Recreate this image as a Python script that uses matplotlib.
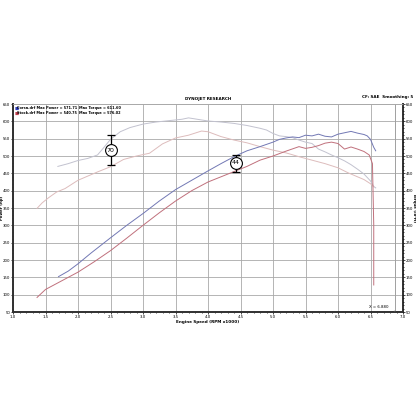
import numpy as np
import matplotlib
matplotlib.use('Agg')
import matplotlib.pyplot as plt
from matplotlib.ticker import MultipleLocator

# dyno runs: engine speed (RPM x1000) vs power (hp) / torque (lb-ft)
corsa_power_rpm = [1.70, 1.85, 2.0, 2.2, 2.5, 2.75, 3.0, 3.25, 3.5, 3.75, 4.0, 4.2, 4.4, 4.6, 4.8,
                   5.0, 5.1, 5.2, 5.3, 5.4, 5.5, 5.6, 5.7, 5.8, 5.9, 6.0, 6.1, 6.2, 6.3, 6.4,
                   6.45, 6.5, 6.55, 6.58]
corsa_power = [152, 168, 189, 220, 264, 300, 334, 370, 403, 430, 457, 478, 498, 515, 527,
               540, 548, 552, 555, 553, 560, 558, 563, 557, 555, 563, 567, 571, 566, 562,
               558, 548, 525, 515]

stock_power_rpm = [1.37, 1.5, 1.75, 2.0, 2.25, 2.5, 2.75, 3.0, 3.25, 3.5, 3.75, 4.0, 4.2, 4.4,
                   4.6, 4.8, 5.0, 5.2, 5.4, 5.5, 5.6, 5.7, 5.8, 5.9, 6.0, 6.1, 6.2, 6.3, 6.4,
                   6.48, 6.53, 6.55, 6.55]
stock_power = [92, 115, 140, 165, 195, 227, 263, 300, 336, 370, 400, 425, 440, 455,
               470, 488, 500, 514, 527, 522, 525, 530, 537, 540, 536, 520, 526, 520, 513,
               503, 478, 300, 128]

corsa_torque_rpm = [1.69, 1.85, 2.0, 2.15, 2.3, 2.4, 2.5, 2.65, 2.8, 3.0, 3.2, 3.4, 3.6, 3.7,
                    3.8, 4.0, 4.2, 4.4, 4.6, 4.8, 4.9, 5.0, 5.1, 5.2, 5.3, 5.4, 5.5, 5.6, 5.7,
                    5.8, 5.9, 6.0, 6.1, 6.2, 6.3, 6.4, 6.5, 6.55, 6.58]
corsa_torque = [470, 478, 487, 493, 503, 525, 548, 570, 582, 592, 598, 602, 606, 610,
                607, 601, 598, 594, 588, 580, 575, 565, 558, 556, 553, 546, 540, 536, 520,
                512, 503, 495, 486, 475, 462, 448, 428, 412, 408]

stock_torque_rpm = [1.37, 1.45, 1.55, 1.67, 1.8, 2.0, 2.15, 2.3, 2.5, 2.7, 2.9, 3.1, 3.3, 3.5,
                    3.7, 3.9, 4.0, 4.2, 4.4, 4.6, 4.8, 5.0, 5.2, 5.4, 5.6, 5.8, 6.0, 6.15,
                    6.3, 6.4, 6.5, 6.55]
stock_torque = [349, 365, 380, 396, 406, 430, 442, 454, 469, 490, 500, 508, 535, 552,
                560, 572, 570, 556, 546, 538, 527, 517, 509, 498, 488, 478, 466, 452,
                440, 432, 420, 411]

# gain markers: rpm, low, high, label
gain_rpm = [2.5, 4.43]
gain_low = [473, 454]
gain_high = [562, 504]
gain_mid = [517, 480]
gain_labels = ['70', '44']

cursor_rpm = 6.88

legend_rows = [('Corsa.drf', '571.71', '611.60', '#3040c0'),
               ('Stock.drf', '540.75', '576.02', '#c04050')]

fig = plt.figure(figsize=(4.16, 4.16), dpi=100)
ax = fig.add_axes([13 / 416, 0.25, 390 / 416, 0.5])

ax.set_xlim(1.0, 7.0)
ax.set_ylim(50, 650)
ax.xaxis.set_major_locator(MultipleLocator(0.5))
ax.xaxis.set_minor_locator(MultipleLocator(0.1))
ax.yaxis.set_major_locator(MultipleLocator(50))
ax.yaxis.set_minor_locator(MultipleLocator(10))
ax.grid(True, which='major', color='#a8a8a8', lw=0.6)
ax.set_axisbelow(True)

ax.plot(corsa_torque_rpm, corsa_torque, color='#c2c2cf', lw=0.7)
ax.plot(stock_torque_rpm, stock_torque, color='#ddbcbc', lw=0.7)
ax.plot(corsa_power_rpm, corsa_power, color='#7278b4', lw=0.7)
ax.plot(stock_power_rpm, stock_power, color='#c0707c', lw=0.7)

ax.axvline(cursor_rpm, color='#a0a0a0', lw=0.7)

for r, lo, hi, mid, lab in zip(gain_rpm, gain_low, gain_high, gain_mid, gain_labels):
    ax.errorbar([r], [mid], yerr=[[mid - lo], [hi - mid]], fmt='none', ecolor='black',
                elinewidth=0.9, capsize=3, capthick=0.9, zorder=5)
    ax.plot([r], [mid], marker='o', ms=8.5, mfc='white', mec='black', mew=0.8, zorder=6)
    ax.text(r, mid, lab, ha='center', va='center', fontsize=4.5, zorder=7)

ax.annotate('X = 6.880', xy=(cursor_rpm, 52), xytext=(6.78, 64), fontsize=2.8,
            ha='right', va='center',
            arrowprops=dict(arrowstyle='-', color='#606060', lw=0.5))

for sp in ['left', 'bottom', 'right']:
    ax.spines[sp].set_linewidth(1.4)
    ax.spines[sp].set_color('#303030')
ax.spines['top'].set_color('#a8a8a8')
ax.spines['top'].set_linewidth(0.6)

ax.tick_params(which='both', labelsize=2.8, length=1.5, width=0.5, pad=0.5)
ax.tick_params(which='minor', length=1)
ax.set_xticklabels([f'{v:.1f}' for v in ax.get_xticks()])
ax.set_xlabel('Engine Speed (RPM x1000)', fontsize=3, fontweight='bold', labelpad=1)
ax.set_ylabel('Power (hp)', fontsize=2.8, fontweight='bold', va='center')
ax.yaxis.set_label_coords(-0.028, 0.5)

ax2 = ax.twinx()
ax2.set_ylim(50, 650)
ax2.yaxis.set_major_locator(MultipleLocator(50))
ax2.yaxis.set_minor_locator(MultipleLocator(10))
ax2.tick_params(which='both', labelsize=2.8, length=1.5, width=0.5, pad=0.5)
ax2.tick_params(which='minor', length=1)
ax2.set_ylabel('Torque (lb-ft)', fontsize=2.8, fontweight='bold', rotation=270, va='center')
ax2.yaxis.set_label_coords(1.029, 0.5)
for sp in ax2.spines.values():
    sp.set_visible(False)

# legend rows at top-left
for i, (name, hp, tq, col) in enumerate(legend_rows):
    y = 0.988 - i * 0.024
    ax.text(0.003, y, '\u25A0', color=col, fontsize=3.2, transform=ax.transAxes, va='top')
    ax.text(0.011, y, f'{name} Max Power = {hp}', fontsize=2.5, fontweight='bold',
            transform=ax.transAxes, va='top')
    ax.text(0.168, y, f'Max Torque = {tq}', fontsize=2.5, fontweight='bold',
            transform=ax.transAxes, va='top')

fig.text(0.5, 1 - 99 / 416, 'DYNOJET RESEARCH', fontsize=3, fontweight='bold',
         ha='center', va='center')
fig.text(0.993, 1 - 97 / 416, 'CF: SAE  Smoothing: 5', fontsize=3, fontweight='bold',
         ha='right', va='center')

fig.savefig('out.png', dpi=100, facecolor='white')
